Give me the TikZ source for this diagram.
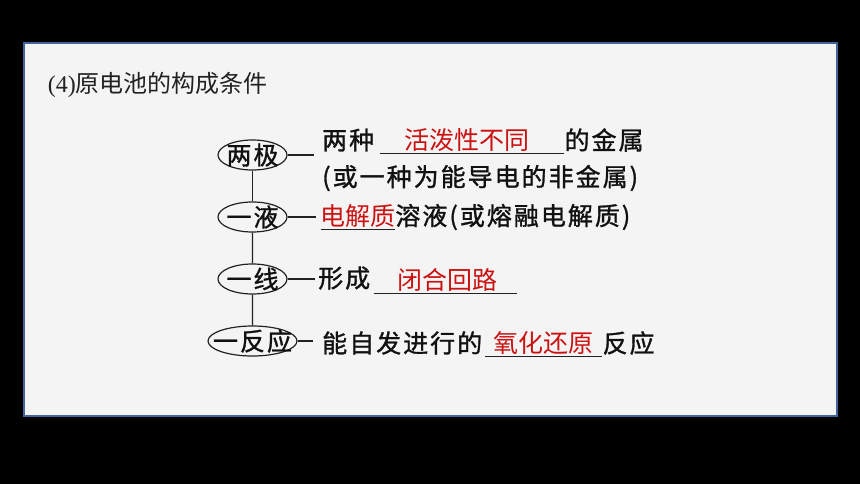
\documentclass[tikz,border=0pt]{standalone}
\usepackage{fontspec}
\newfontfamily\cjk{Noto Sans CJK SC}
\newfontfamily\cjkbold[LetterSpace=8,FakeBold=1.2]{Noto Sans CJK SC}
\newfontfamily\titleserif{Liberation Serif}
\usetikzlibrary{shapes.geometric,positioning}
\definecolor{panelfill}{HTML}{F4F4F4}
\definecolor{panelblue}{HTML}{41659A}
\definecolor{answerred}{HTML}{CC1111}
\definecolor{wordblack}{HTML}{111111}
\definecolor{titlegray}{HTML}{222222}
\definecolor{linegray}{HTML}{222222}

\begin{document}
\begin{tikzpicture}[x=1pt,y=-1pt,line width=1.2pt,font=\cjkbold\fontsize{25pt}{30pt}\selectfont]
% Spacing for each level of the tree
\tikzstyle{level 1}=[level distance=62pt]
\tikzstyle{level 2}=[level distance=62pt]
\tikzstyle{level 3}=[level distance=62pt]

\tikzset{
% Node styles: ellipses, words and blanks
ellipse node/.style={ellipse,draw=linegray,inner sep=0pt,minimum width=69pt,minimum height=30pt},
word/.style={inner sep=0pt,text=wordblack},
blank/.style={inner sep=0pt,minimum width=#1,minimum height=0pt},
red word/.style={inner sep=0pt,text=answerred,font=\cjk\fontsize{25pt}{30pt}\selectfont},
every label/.style={inner sep=0pt,text=wordblack},
underline/.style={draw=linegray,line width=0.9pt},
edge from parent/.style={draw=linegray}
}

% Background and panel
\useasboundingbox (0,0) rectangle (860,484);
\fill[black] (0,0) rectangle (860,484);
\draw[panelblue,line width=2pt,fill=panelfill] (23.5,43.5) rectangle (836.5,415.5);

\node(title)[anchor=west,text=titlegray,font=\cjk\fontsize{24pt}{28pt}\selectfont] at (44,85) {{\titleserif(4)}原电池的构成条件};

% The Tree
\node(jiyi)[ellipse node,label=center:{两极}] at (252.5,155) {}
child{node(yiye)[ellipse node,label=center:{一液}]{}
child{node(yixian)[ellipse node,label=center:{一线}]{}
child{node(fanying)[ellipse node,minimum width=89pt,label=center:{一反应}]{}}
}
};

% Line 1 and 2
\node(liangzhong)[word,right=34pt of jiyi,yshift=15pt]{两种};
\node(kong1)[blank=183pt,right=5pt of liangzhong,yshift=-13pt,label distance=4pt,label={[red word,xshift=-5pt]above:活泼性不同}]{};
\node(jinshu)[word,anchor=west] at (kong1.east |- liangzhong.west) {的金属};
\node(huo)[word,anchor=west,yshift=-38pt] at (liangzhong.west) {(或一种为能导电的非金属)};

% Line 3
\node(kong2)[blank=73pt,right=33pt of yiye,yshift=-12pt,label distance=1pt,label={[red word]above:电解质}]{};
\node(rongye)[word,anchor=west] at (kong2.east |- yiye.east) {溶液(或熔融电解质)};

% Line 4
\node(xingcheng)[word,right=30pt of yixian,yshift=1pt]{形成};
\node(kong3)[blank=142pt,right=3pt of xingcheng,yshift=-15pt,label distance=5pt,label={[red word,xshift=2pt]above:闭合回路}]{};

% Line 5
\node(neng)[word,right=24pt of fanying,yshift=-2pt]{能自发进行的};
\node(kong4)[blank=116pt,right=2pt of neng,yshift=-13pt,label distance=7pt,label={[red word]above:氧化还原}]{};
\node(fanyingzi)[word,anchor=west] at (kong4.east |- neng.west) {反应};

% Connectors and blanks
\draw[linegray,shorten >=8pt] (jiyi.east) -- (jiyi.east -| liangzhong.west);
\draw[linegray,shorten >=5pt] (yiye.east) -- (yiye.east -| kong2.west);
\draw[linegray,shorten >=3pt] (yixian.east) -- (yixian.east -| xingcheng.west);
\draw[linegray,shorten >=9pt] (fanying.east) -- (fanying.east -| neng.west);
\foreach \k in {kong1,kong2,kong3,kong4}
\draw[underline] (\k.west) -- (\k.east);

\end{tikzpicture}
\end{document}
